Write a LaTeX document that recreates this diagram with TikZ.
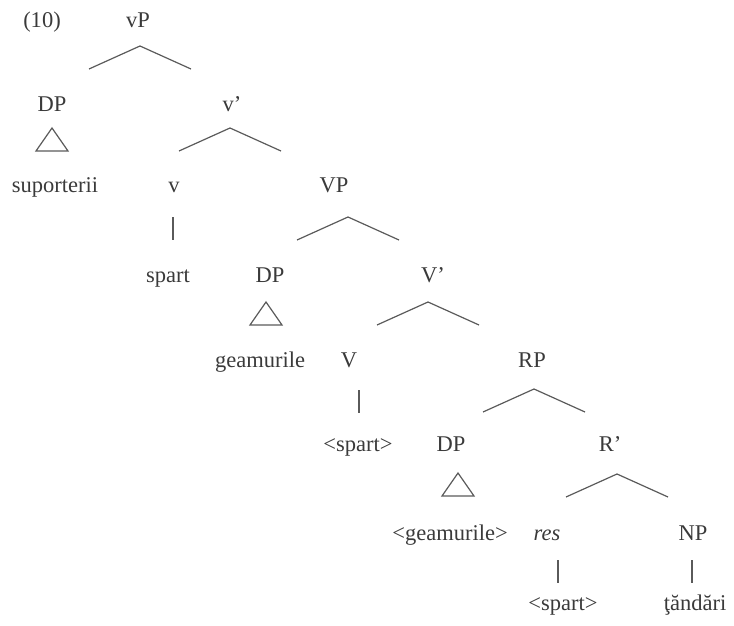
\documentclass[tikz,border=0pt]{standalone}
\usepackage{fontspec}
\setmainfont{Liberation Serif}

\definecolor{ink}{HTML}{3A3A3A}
\definecolor{twig}{HTML}{5A5A5A}

\tikzset{
  lbl/.style={anchor=base, inner sep=0pt, text=ink, font=\fontsize{22.5bp}{27bp}\selectfont},
  edge/.style={draw=twig, line width=1.2bp}
}

% caret under a node: name, x offset, y offset of the apex
\newcommand\caret[3]{\draw[edge] ([shift={(#2-51,#3+23)}]#1.base) -- ([shift={(#2,#3)}]#1.base) -- ([shift={(#2+51,#3+23)}]#1.base);}
% triangle under a DP
\newcommand\roof[3]{\draw[edge] ([shift={(#2,#3)}]#1.base) -- ++(-16,23) -- ++(32,0) -- cycle;}
% plain stem under a head
\newcommand\stem[3]{\draw[edge] ([shift={(#2,#3)}]#1.base) -- ++(0,23);}

\begin{document}
\begin{tikzpicture}[x=1bp,y=-1bp]
\useasboundingbox (0,0) rectangle (734,626);

\node[lbl] (ex) at (42,28) {(10)};
\node[lbl] (vP) at (138,28) {vP};

\node[lbl] (DPa) at (52,112) {DP};
\node[lbl] (vbar) at (232,112) {v’};

\node[lbl] (supp) at (55,193) {suporterii};
\node[lbl] (vhead) at (174,193) {v};
\node[lbl] (VP) at (334,193) {VP};

\node[lbl] (spart) at (168,282) {spart};
\node[lbl] (DPb) at (270,282) {DP};
\node[lbl] (Vbar) at (433,282) {V’};

\node[lbl] (geam) at (260,367) {geamurile};
\node[lbl] (Vhead) at (349,367) {V};
\node[lbl] (RP) at (532,367) {RP};

\node[lbl] (spartV) at (358,451) {<spart>};
\node[lbl] (DPc) at (451,451) {DP};
\node[lbl] (Rbar) at (610,451) {R’};

\node[lbl] (geamR) at (450,540) {<geamurile>};
\node[lbl] (res) at (547,540) {\itshape res};
\node[lbl] (NP) at (693,540) {NP};

\node[lbl] (spartR) at (563,610) {<spart>};
\node[lbl] (tand) at (695,610) {ţăndări};

% branching
\caret{vP}{2}{18}
\caret{vbar}{-2}{16}
\caret{VP}{14}{24}
\caret{Vbar}{-5}{20}
\caret{RP}{2}{22}
\caret{Rbar}{7}{23}

% roofs
\roof{DPa}{0}{16}
\roof{DPb}{-4}{20}
\roof{DPc}{7}{22}

% heads
\stem{vhead}{-1}{24}
\stem{Vhead}{10}{23}
\stem{res}{11}{20}
\stem{NP}{-1}{20}

\end{tikzpicture}
\end{document}
